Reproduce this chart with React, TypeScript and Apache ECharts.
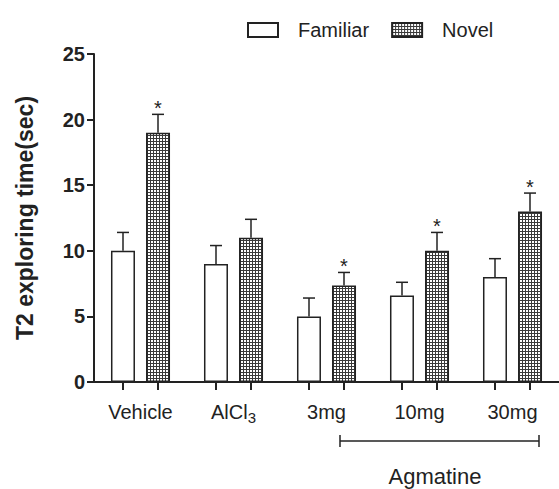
import React, { useEffect, useRef } from "react";
import * as echarts from "echarts";

const categories = ["Vehicle", "AlCl3", "3mg", "10mg", "30mg"];
const familiarMean = [10, 9, 5, 6.6, 8];
const familiarSem = [1.4, 1.4, 1.4, 1.0, 1.4];
const novelMean = [19, 11, 7.35, 10, 13];
const novelSem = [1.4, 1.4, 1.0, 1.4, 1.4];
const novelSig = [1, 0, 1, 1, 1];
const yMin = 0;
const yMax = 25;
const yInterval = 5;

const FONT = "'Liberation Sans', Arial, sans-serif";
const INK = "#222";
const GRID_W = 467;
const BAR_OFFSET = 17.5;
const OFFSET_FRAC = BAR_OFFSET / (GRID_W / categories.length);
const barTickValues = categories.flatMap((_, i) => [i - OFFSET_FRAC, i + OFFSET_FRAC]);

function makePattern() {
  const c = document.createElement("canvas");
  c.width = 3;
  c.height = 3;
  const ctx = c.getContext("2d")!;
  ctx.fillStyle = "#3a3a3a";
  ctx.fillRect(0, 0, 3, 3);
  ctx.fillStyle = "#fff";
  ctx.fillRect(1, 1, 2, 2);
  return c;
}

function makeErr(offset: number) {
  return (params: any, api: any) => {
    const i = api.value(0);
    const m = api.value(1);
    const e = api.value(2);
    const s = api.value(3);
    const base = api.coord([i, 0]);
    const top = api.coord([i, m]);
    const et = api.coord([i, m + e]);
    const x = base[0] + offset;
    const st = { stroke: INK, lineWidth: 1.5 };
    const children: any[] = [
      { type: "line", shape: { x1: x, y1: top[1], x2: x, y2: et[1] }, style: st },
      { type: "line", shape: { x1: x - 6, y1: et[1], x2: x + 6, y2: et[1] }, style: st },
    ];
    if (s) {
      children.push({
        type: "text",
        x: x,
        y: et[1] - 6,
        style: {
          text: "*",
          fontSize: 20,
          fontFamily: FONT,
          fill: INK,
          align: "center",
          verticalAlign: "middle",
        },
      });
    }
    return { type: "group", children };
  };
}

export default function App() {
  const ref = useRef<HTMLDivElement>(null);
  useEffect(() => {
    document.body.style.margin = "0";
    const chart = echarts.init(ref.current!, null, { renderer: "svg" });
    const pattern = makePattern();
    const option: any = {
      animation: false,
      backgroundColor: "#fff",
      textStyle: { fontFamily: FONT },
      legend: {
        data: ["Familiar", "Novel"],
        left: 247,
        top: 20,
        padding: 0,
        icon: "rect",
        itemWidth: 30,
        itemHeight: 14,
        itemGap: 22,
        textStyle: { fontSize: 20, lineHeight: 14, color: INK, fontFamily: FONT, padding: [0, 0, 0, 15] },
      },
      grid: { left: 94, top: 54, width: GRID_W, height: 328, containLabel: false },
      xAxis: [
        {
          type: "category",
          data: categories,
          axisLine: { lineStyle: { color: INK, width: 2 } },
          axisTick: { show: false },
          axisLabel: {
            interval: 0,
            fontSize: 20,
            lineHeight: 22,
            color: INK,
            margin: 19,
            fontFamily: FONT,
            formatter: (v: string) => (v === "AlCl3" ? "{m|AlCl}{sub|3}" : v),
            rich: {
              m: { fontSize: 20, lineHeight: 22, color: INK, fontFamily: FONT },
              sub: { fontSize: 15, lineHeight: 22, color: INK, fontFamily: FONT, verticalAlign: "top", padding: [9, 0, 0, 0] },
            },
          },
        },
        {
          type: "value",
          position: "bottom",
          min: -0.5,
          max: categories.length - 0.5,
          axisLine: { show: false, onZero: false },
          axisLabel: { show: false },
          splitLine: { show: false },
          axisTick: { show: true, length: 8, customValues: barTickValues, lineStyle: { color: INK, width: 2 } },
        },
      ],
      yAxis: {
        type: "value",
        min: yMin,
        max: yMax,
        interval: yInterval,
        name: "T2 exploring time(sec)",
        nameLocation: "middle",
        nameRotate: 90,
        nameGap: 58,
        nameTextStyle: { fontSize: 23, fontWeight: "bold", color: INK, fontFamily: FONT },
        axisLine: { show: true, onZero: false, lineStyle: { color: INK, width: 2 } },
        axisTick: { show: true, length: 7, lineStyle: { color: INK, width: 2 } },
        axisLabel: { fontSize: 20, fontWeight: "bold", color: INK, margin: 9, fontFamily: FONT },
        splitLine: { show: false },
      },
      series: [
        {
          name: "Familiar",
          type: "bar",
          data: familiarMean,
          barWidth: 24,
          barGap: "46%",
          itemStyle: { color: "#fff", borderColor: INK, borderWidth: 1.5 },
        },
        {
          name: "Novel",
          type: "bar",
          data: novelMean,
          barWidth: 24,
          barGap: "46%",
          itemStyle: { color: { image: pattern, repeat: "repeat" }, borderColor: INK, borderWidth: 1.5 },
        },
        {
          name: "FamiliarErr",
          type: "custom",
          clip: false,
          renderItem: makeErr(-BAR_OFFSET),
          data: familiarMean.map((m, i) => [i, m, familiarSem[i], 0]),
          z: 5,
        },
        {
          name: "NovelErr",
          type: "custom",
          clip: false,
          renderItem: makeErr(BAR_OFFSET),
          data: novelMean.map((m, i) => [i, m, novelSem[i], novelSig[i]]),
          z: 5,
        },
      ],
      graphic: [
        { type: "line", shape: { x1: 340, y1: 441, x2: 539, y2: 441 }, style: { stroke: INK, lineWidth: 1.5 } },
        { type: "line", shape: { x1: 340, y1: 435, x2: 340, y2: 447 }, style: { stroke: INK, lineWidth: 1.5 } },
        { type: "line", shape: { x1: 539, y1: 435, x2: 539, y2: 447 }, style: { stroke: INK, lineWidth: 1.5 } },
        {
          type: "text",
          x: 435,
          y: 476,
          style: { text: "Agmatine", fontSize: 22, fontFamily: FONT, fill: INK, align: "center", verticalAlign: "middle" },
        },
      ],
    };
    chart.setOption(option);
    return () => chart.dispose();
  }, []);
  return <div ref={ref} style={{ position: "fixed", left: 0, top: 0, width: 559, height: 489 }} />;
}
